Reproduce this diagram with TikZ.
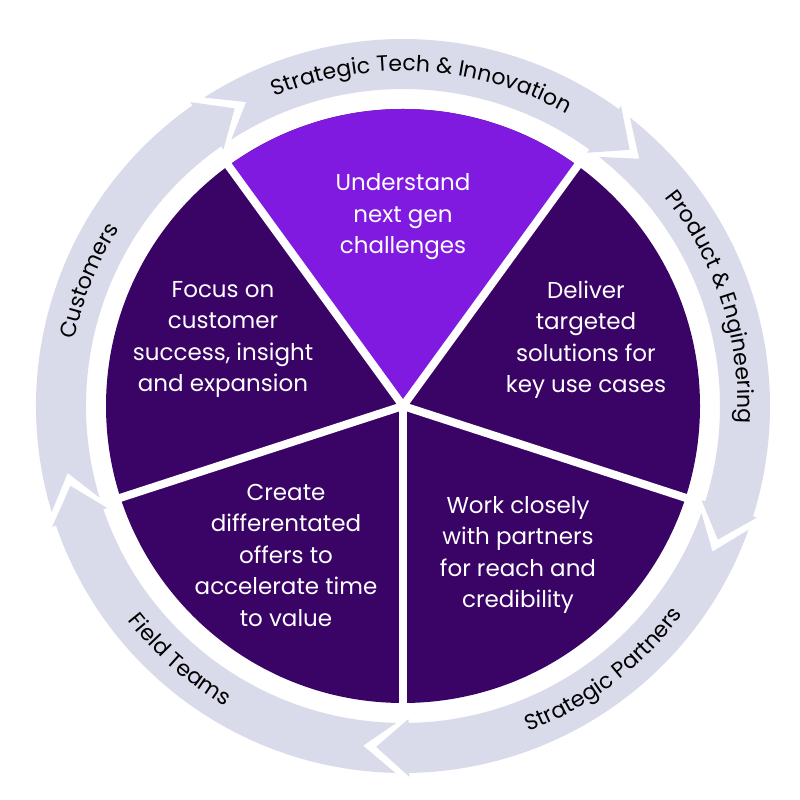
\documentclass[tikz,border=0pt]{standalone}
\usepackage{fontspec}
\setmainfont{Poppins}
\usetikzlibrary{decorations.text}
\definecolor{darkp}{HTML}{3A0466}
\definecolor{brightp}{HTML}{801AE0}
\definecolor{ringcol}{HTML}{D9DAEA}
\newcommand\ringfont{\fontsize{22}{22}\selectfont}
\def\rout{367pt}
\def\rin{317pt}
\def\rmid{342pt}
\def\ex{4pt}
\def\hl{5.5}
\newcommand\ringarrow[2]{%
  \fill[ringcol] (#1:\rout) arc[start angle=#1, end angle=#2+\hl, radius=\rout]
    -- ({#2+\hl}:{\rout+\ex}) -- (#2:\rmid) -- ({#2+\hl}:{\rin-\ex})
    -- ({#2+\hl}:\rin) arc[start angle=#2+\hl, end angle=#1, radius=\rin]
    -- ({#1-\hl}:\rmid) -- cycle;}
\newcommand\cwlabel[2]{% center angle, text (clockwise, tops outward)
  \path[decorate, decoration={text along path, text={|\ringfont|#2}, text align=center}]
    ({#1+50}:335pt) arc[start angle=#1+50, end angle=#1-50, radius=335pt];}
\newcommand\ccwlabel[2]{% center angle, text (counterclockwise, tops inward)
  \path[decorate, decoration={text along path, text={|\ringfont|#2}, text align=center}]
    ({#1-50}:349pt) arc[start angle=#1-50, end angle=#1+50, radius=349pt];}
\begin{document}
\begin{tikzpicture}[x=1pt, y=1pt,
  slicetext/.style={text=white, align=center, font=\fontsize{23}{31.5}\selectfont, inner sep=0pt}]
\useasboundingbox (0,0) rectangle (800,800);
\coordinate (C) at (403,394);
\begin{scope}[shift={(C)}]
  % pie
  \fill[darkp] (0,0) circle[radius=297pt];
  \fill[brightp] (0,0) -- (54:297pt) arc[start angle=54, end angle=126, radius=297pt] -- cycle;
  \foreach \a in {54,126,198,270,342}
    \draw[white, line width=8pt] (0,0) -- (\a:305pt);
  % ring arrows (tail angle, tip angle)
  \ringarrow{196.8}{119.5}
  \ringarrow{122.8}{48.5}
  \ringarrow{51.8}{-23}
  \ringarrow{-19.7}{-94.5}
  \ringarrow{-91.2}{-166.5}
  % ring labels
  \cwlabel{86.6}{Strategic Tech {\&} Innovation}
  \cwlabel{17.8}{Product {\&} Engineering}
  \ccwlabel{-52.8}{Strategic Partners}
  \ccwlabel{228.7}{Field Teams}
  \cwlabel{158.3}{Customers}
\end{scope}
\node[slicetext] (top) at (403,583) {Understand\\next gen\\challenges};
\node[slicetext] (ur) at (586,460.5) {Deliver\\targeted\\solutions for\\key use cases};
\node[slicetext] (ul) at (223,460.5) {Focus on\\customer\\success, insight\\and expansion};
\node[slicetext] (ll) at (286,245) {Create\\differentated\\offers to\\accelerate time\\to value};
\node[slicetext] (lr) at (518,245) {Work closely\\with partners\\for reach and\\credibility};
\end{tikzpicture}
\end{document}
